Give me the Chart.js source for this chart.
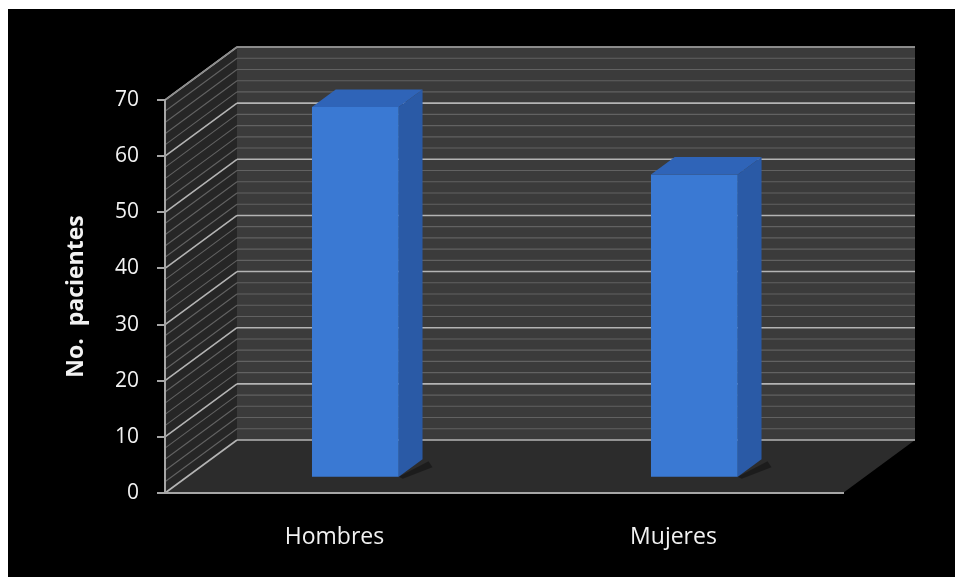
<!DOCTYPE html>
<html>
<head>
<meta charset="utf-8">
<script src="https://cdn.jsdelivr.net/npm/chart.js@4/dist/chart.umd.min.js"></script>
<style>
html,body{margin:0;padding:0;background:#fff;}
#wrap{width:955px;height:577px;position:relative;}
canvas{display:block;}
</style>
</head>
<body>
<div id="wrap"><canvas id="c" width="955" height="577"></canvas></div>
<script>
// ---- data ----
const categories = ['Hombres', 'Mujeres'];
const patientCounts = [66, 54];
const yTickValues = [0, 10, 20, 30, 40, 50, 60, 70];
const yAxisTitle = 'No.  pacientes';

// ---- 3D scene plugin (walls, floor, bar depth) ----
const DEPTH_X = 72, DEPTH_Y = -53;   // offset of back wall
const BAR_POS = 0.29;                // bar plane depth fraction
const BAR_DEPTH = 0.33;              // bar thickness fraction

const scene3d = {
  id: 'scene3d',
  beforeDraw(chart) {
    const ctx = chart.ctx;
    const ys = chart.scales.y;
    const L = chart.chartArea.left, R = chart.chartArea.right;
    const yMin = ys.min, yMax = ys.max;
    const B = ys.getPixelForValue(yMin), T = ys.getPixelForValue(yMax);
    ctx.save();
    ctx.fillStyle = '#ffffff';
    ctx.fillRect(0, 0, chart.width, chart.height);
    ctx.fillStyle = '#000000';
    ctx.fillRect(8, 9, chart.width - 8, chart.height - 9);
    // floor
    ctx.fillStyle = '#2c2c2c';
    ctx.beginPath();
    ctx.moveTo(L, B); ctx.lineTo(R, B); ctx.lineTo(R + DEPTH_X, B + DEPTH_Y); ctx.lineTo(L + DEPTH_X, B + DEPTH_Y);
    ctx.closePath(); ctx.fill();
    // back wall
    ctx.fillStyle = '#3b3b3b';
    ctx.fillRect(L + DEPTH_X, T + DEPTH_Y, R - L, B - T);
    // side wall
    ctx.fillStyle = '#262626';
    ctx.beginPath();
    ctx.moveTo(L, T); ctx.lineTo(L + DEPTH_X, T + DEPTH_Y); ctx.lineTo(L + DEPTH_X, B + DEPTH_Y); ctx.lineTo(L, B);
    ctx.closePath(); ctx.fill();
    // grid lines (minor every 2, major every 10)
    for (let v = yMin; v <= yMax; v += 2) {
      const yy = ys.getPixelForValue(v);
      const major = (v % 10 === 0);
      ctx.strokeStyle = major ? '#b4b4b4' : '#626262';
      ctx.lineWidth = major ? 1.6 : 1.1;
      ctx.beginPath();
      ctx.moveTo(L + DEPTH_X, yy + DEPTH_Y); ctx.lineTo(R + DEPTH_X, yy + DEPTH_Y);
      ctx.stroke();
      ctx.beginPath();
      ctx.moveTo(L, yy); ctx.lineTo(L + DEPTH_X, yy + DEPTH_Y);
      ctx.stroke();
    }
    // top edge of wall
    ctx.strokeStyle = '#8a8a8a';
    ctx.lineWidth = 1.5;
    ctx.beginPath();
    ctx.moveTo(L, T); ctx.lineTo(L + DEPTH_X, T + DEPTH_Y); ctx.lineTo(R + DEPTH_X, T + DEPTH_Y);
    ctx.stroke();
    ctx.restore();
  },
  beforeDatasetsDraw(chart) {
    chart.ctx.save();
    chart.ctx.translate(DEPTH_X * BAR_POS, DEPTH_Y * BAR_POS);
  },
  afterDatasetsDraw(chart) {
    const ctx = chart.ctx;
    const dX = DEPTH_X * BAR_DEPTH, dY = DEPTH_Y * BAR_DEPTH;
    chart.getDatasetMeta(0).data.forEach(bar => {
      const {x, y, base, width} = bar.getProps(['x', 'y', 'base', 'width'], true);
      const l = x - width / 2, r = x + width / 2;
      // soft floor shadow
      ctx.fillStyle = 'rgba(0,0,0,0.35)';
      ctx.beginPath();
      ctx.moveTo(r, base); ctx.lineTo(r + dX + 6, base + dY + 2); ctx.lineTo(r + dX + 10, base + dY + 8); ctx.lineTo(r + 4, base + 2);
      ctx.closePath(); ctx.fill();
      // side face
      ctx.fillStyle = '#2a5aa6';
      ctx.beginPath();
      ctx.moveTo(r, y); ctx.lineTo(r + dX, y + dY); ctx.lineTo(r + dX, base + dY); ctx.lineTo(r, base);
      ctx.closePath(); ctx.fill();
      // top face
      ctx.fillStyle = '#2f64b8';
      ctx.beginPath();
      ctx.moveTo(l, y); ctx.lineTo(r, y); ctx.lineTo(r + dX, y + dY); ctx.lineTo(l + dX, y + dY);
      ctx.closePath(); ctx.fill();
    });
    ctx.restore();
  }
};

Chart.defaults.font.family = "'Open Sans', sans-serif";

new Chart(document.getElementById('c'), {
  type: 'bar',
  data: {
    labels: categories,
    datasets: [{
      data: patientCounts,
      backgroundColor: '#3a79d3',
      borderWidth: 0,
      categoryPercentage: 1.0,
      barPercentage: 0.256
    }]
  },
  plugins: [scene3d],
  options: {
    responsive: false,
    animation: false,
    devicePixelRatio: 1,
    layout: { padding: { left: 0, top: 100, right: 112, bottom: 0 } },
    plugins: { legend: { display: false }, tooltip: { enabled: false } },
    scales: {
      x: {
        grid: { drawOnChartArea: false, drawTicks: false },
        border: { display: true, color: '#a6a6a6', width: 2 },
        ticks: { color: '#f2f2f2', font: { size: 23 }, padding: 31 },
        afterFit(s) { s.height = 84; }
      },
      y: {
        min: 0, max: 70,
        afterBuildTicks(s) { s.ticks = yTickValues.map(v => ({ value: v })); },
        grid: { drawOnChartArea: false, color: '#a6a6a6', tickLength: 8, lineWidth: 2 },
        border: { display: true, color: '#a6a6a6', width: 2 },
        ticks: { color: '#f2f2f2', font: { size: 21 }, padding: 18 },
        title: { display: true, text: yAxisTitle, color: '#f2f2f2', font: { size: 23, weight: 'bold' }, padding: { top: 63, bottom: 0 } },
        afterFit(s) { s.width = 165; }
      }
    }
  }
});
</script>
</body>
</html>
